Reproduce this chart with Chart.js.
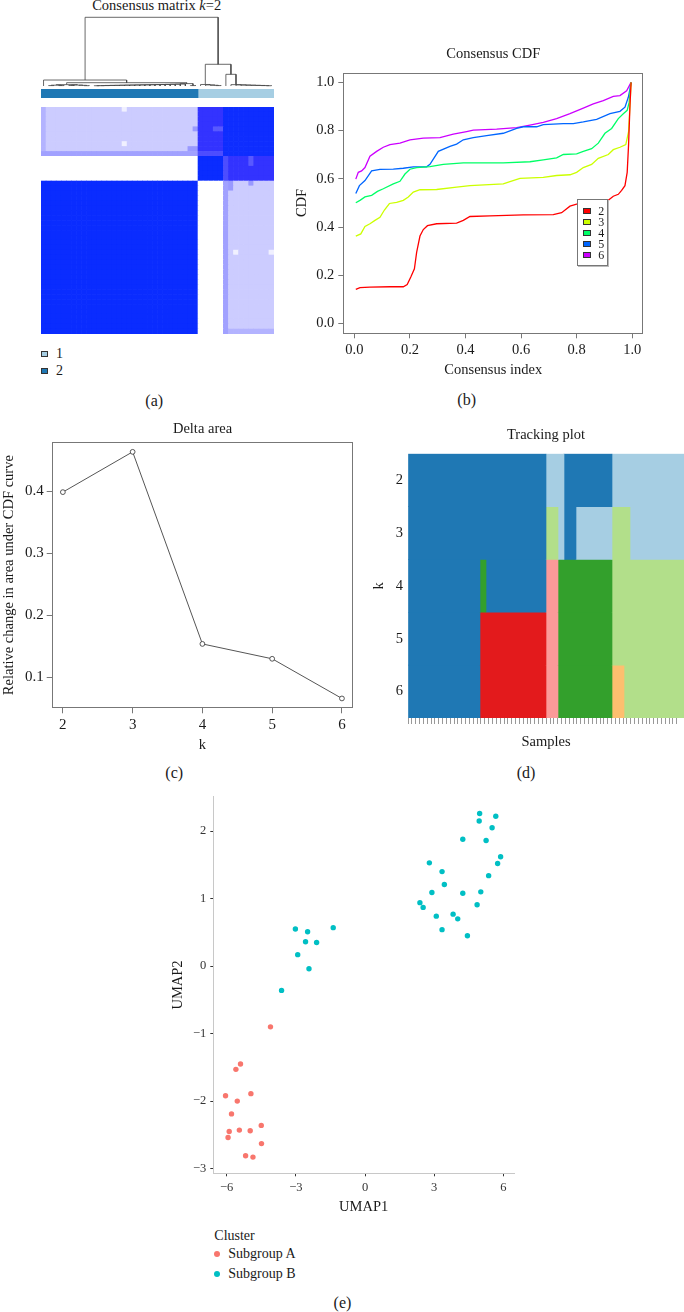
<!DOCTYPE html>
<html><head><meta charset="utf-8">
<script src="https://cdn.jsdelivr.net/npm/chart.js@4.4.0/dist/chart.umd.min.js"></script>
<style>
html,body{margin:0;padding:0;background:#fff;}
body{width:684px;height:1312px;position:relative;overflow:hidden;font-family:'Liberation Serif','DejaVu Serif',serif;color:#1a1a1a;}
canvas{position:absolute;}
.t{position:absolute;white-space:nowrap;line-height:1;}
.sq{position:absolute;box-sizing:border-box;border:1px solid #333;}
.dot{position:absolute;border-radius:50%;}
</style></head><body>
<script>
// ---------------- DATA ----------------
// (a) consensus matrix, k = 2 (samples ordered as in the heatmap)
const heatGroupSizes = [31, 5, 10];
const heatGroupCluster = [2, 1, 1];
const heatBlockValues = [[1.00, 0.00, 0.20], [0.00, 1.00, 0.80], [0.20, 0.80, 0.98]];
const heatSampleGroupExceptions = [[0, 2, 0.30], [36, 0, 0.37], [36, 1, 0.70]];
const heatCellExceptions = [[16, 45, 0.06], [16, 38, 0.06], [29, 37, 0.40], [30, 37, 0.40], [30, 41, 0.40], [34, 41, 0.65], [35, 41, 0.65]];
// dendrogram pieces (leaf indices and merge heights)
const dendroG1 = [0.020, [0.012, [0.006, 1, 2], [0.006, 3, 4]], [0.014, [0.008, 5, 6], [0.010, 7, [0.005, 8, 9]]]];
const dendroChainFLeaves = [10, 11, 12, 13, 14, 15, 16, 17, 18, 19, 20, 21, 22, 23, 24, 25, 26, 27, 28];
const dendroChainFHeights = [0.004, 0.005, 0.006, 0.008, 0.009, 0.010, 0.012, 0.013, 0.014, 0.016, 0.017, 0.018, 0.020, 0.021, 0.022, 0.024, 0.026, 0.028];
const dendroChainALeaves = [31, 32, 33, 34, 35];
const dendroChainAHeights = [0.022, 0.016, 0.011, 0.006];
const dendroChainBLeaves = [37, 38, 39, 40, 41, 42, 43, 44, 45];
const dendroChainBHeights = [0.020, 0.017, 0.014, 0.012, 0.010, 0.008, 0.006, 0.004];
const dendroHeights = {root: 1.0, left: 0.087, leftSub: 0.048, leftSub2: 0.035, pair: 0.006, right: 0.316, rightSub: 0.17};

// (b) consensus CDF
const cdfXTicks = [0.0, 0.2, 0.4, 0.6, 0.8, 1.0];
const cdfYTicks = [0.0, 0.2, 0.4, 0.6, 0.8, 1.0];
const cdfK2 = [[0.005,0.142],[0.02,0.149],[0.056,0.151],[0.128,0.153],[0.176,0.153],[0.19,0.162],[0.203,0.193],[0.216,0.227],[0.224,0.295],[0.236,0.363],[0.248,0.39],[0.263,0.406],[0.296,0.414],[0.368,0.417],[0.392,0.428],[0.416,0.444],[0.488,0.447],[0.608,0.451],[0.716,0.452],[0.746,0.46],[0.776,0.487],[0.8,0.495],[0.848,0.503],[0.908,0.506],[0.932,0.528],[0.95,0.536],[0.962,0.552],[0.974,0.572],[0.982,0.627],[0.987,0.742],[0.992,0.904],[0.996,1.0]];
const cdfK3 = [[0.005,0.363],[0.023,0.372],[0.038,0.403],[0.056,0.414],[0.074,0.428],[0.092,0.441],[0.108,0.471],[0.126,0.498],[0.152,0.503],[0.176,0.511],[0.194,0.525],[0.212,0.545],[0.236,0.555],[0.296,0.556],[0.368,0.566],[0.416,0.572],[0.536,0.579],[0.56,0.589],[0.596,0.602],[0.68,0.606],[0.728,0.614],[0.776,0.617],[0.8,0.627],[0.824,0.647],[0.854,0.66],[0.878,0.685],[0.914,0.701],[0.932,0.721],[0.956,0.731],[0.977,0.742],[0.987,0.796],[0.992,0.904],[0.996,1.0]];
const cdfK4 = [[0.005,0.501],[0.02,0.511],[0.038,0.525],[0.062,0.532],[0.083,0.548],[0.104,0.559],[0.14,0.579],[0.164,0.59],[0.182,0.62],[0.2,0.64],[0.224,0.647],[0.272,0.651],[0.32,0.66],[0.392,0.666],[0.536,0.666],[0.632,0.671],[0.68,0.679],[0.728,0.687],[0.752,0.701],[0.8,0.704],[0.824,0.714],[0.854,0.725],[0.878,0.748],[0.902,0.789],[0.926,0.809],[0.95,0.85],[0.968,0.87],[0.982,0.884],[0.989,0.917],[0.994,0.985],[0.996,1.0]];
const cdfK5 = [[0.005,0.539],[0.018,0.572],[0.038,0.593],[0.062,0.633],[0.092,0.639],[0.14,0.64],[0.176,0.644],[0.212,0.65],[0.26,0.65],[0.272,0.66],[0.302,0.714],[0.344,0.735],[0.368,0.744],[0.392,0.762],[0.428,0.771],[0.476,0.779],[0.536,0.789],[0.584,0.809],[0.608,0.816],[0.656,0.816],[0.68,0.825],[0.752,0.829],[0.788,0.829],[0.824,0.836],[0.872,0.847],[0.92,0.87],[0.956,0.88],[0.974,0.897],[0.986,0.938],[0.992,0.972],[0.996,1.0]];
const cdfK6 = [[0.005,0.599],[0.014,0.627],[0.026,0.633],[0.038,0.647],[0.056,0.694],[0.08,0.714],[0.104,0.731],[0.128,0.742],[0.164,0.748],[0.2,0.762],[0.248,0.769],[0.308,0.771],[0.356,0.785],[0.404,0.796],[0.428,0.802],[0.512,0.806],[0.584,0.812],[0.632,0.823],[0.68,0.834],[0.728,0.85],[0.776,0.87],[0.824,0.893],[0.86,0.911],[0.896,0.924],[0.932,0.942],[0.956,0.945],[0.98,0.965],[0.996,1.0]];
const cdfLabels = ['2', '3', '4', '5', '6'];
const cdfColors = ['#FF0000', '#CCFF00', '#00FF66', '#0066FF', '#CC00FF'];

// (c) delta area
const deltaK = [2, 3, 4, 5, 6];
const deltaArea = [0.399, 0.464, 0.154, 0.130, 0.066];
const deltaYTicks = [0.1, 0.2, 0.3, 0.4];

// (d) tracking plot: runs of [cluster, number of samples] per k
const trackK = ['2', '3', '4', '5', '6'];
const trackRunsK2 = [[2,23],[1,3],[2,8],[1,12]];
const trackRunsK3 = [[2,23],[3,2],[1,1],[2,2],[1,6],[3,3],[1,9]];
const trackRunsK4 = [[2,12],[4,1],[2,10],[5,2],[4,9],[3,12]];
const trackRunsK5 = [[2,12],[6,11],[5,2],[4,9],[3,12]];
const trackRunsK6 = [[2,12],[6,11],[5,2],[4,9],[7,2],[3,10]];
const trackColors = {1:'#A6CEE3', 2:'#1F78B4', 3:'#B2DF8A', 4:'#33A02C', 5:'#FB9A99', 6:'#E31A1C', 7:'#FDBF6F'};

// (e) UMAP
const umapXTicks = [-6, -3, 0, 3, 6];
const umapYTicks = [-3, -2, -1, 0, 1, 2];
const umapA = [[-4.10,-0.90],[-5.40,-1.45],[-5.60,-1.53],[-6.05,-1.92],[-4.95,-1.89],[-5.54,-2.00],[-5.79,-2.19],[-4.50,-2.36],[-5.89,-2.45],[-5.45,-2.43],[-4.98,-2.44],[-5.94,-2.54],[-4.49,-2.63],[-5.18,-2.81],[-4.86,-2.83]];
const umapB = [[-3.02,0.55],[-2.49,0.51],[-2.58,0.36],[-2.10,0.35],[-1.38,0.57],[-2.92,0.17],[-2.43,-0.04],[-3.62,-0.36],[4.97,2.26],[5.67,2.22],[4.95,2.15],[5.51,2.05],[4.24,1.88],[5.25,1.86],[5.88,1.62],[5.75,1.52],[2.79,1.53],[3.34,1.40],[5.36,1.34],[3.44,1.21],[2.90,1.09],[4.24,1.08],[5.02,1.10],[2.38,0.94],[2.52,0.87],[4.86,0.91],[3.09,0.74],[3.82,0.77],[4.02,0.70],[3.34,0.54],[4.44,0.45]];

// ---------------- SETUP ----------------
const FONT = "'Liberation Serif','DejaVu Serif',serif";
Chart.defaults.font.family = FONT;
Chart.defaults.color = '#1a1a1a';
Chart.defaults.animation = false;
Chart.defaults.responsive = false;
Chart.defaults.devicePixelRatio = 1;
Chart.defaults.plugins.legend.display = false;
Chart.defaults.plugins.tooltip.enabled = false;

function makeCanvas(id, left, top, w, h) {
  const c = document.createElement('canvas');
  c.id = id; c.width = w; c.height = h;
  c.style.left = left + 'px'; c.style.top = top + 'px';
  c.style.width = w + 'px'; c.style.height = h + 'px';
  document.body.appendChild(c);
  return c;
}
function txt(str, x, y, size, opts) {
  opts = opts || {};
  const d = document.createElement('div');
  d.className = 't';
  d.innerHTML = str;
  d.style.fontSize = size + 'px';
  d.style.left = x + 'px';
  d.style.top = (y - (opts.k || 0.51) * size) + 'px';
  if (opts.align !== 'left') d.style.transform = 'translateX(-50%)';
  if (opts.color) d.style.color = opts.color;
  document.body.appendChild(d);
}
function sq(x, y, w, h, color) {
  const d = document.createElement('div');
  d.className = 'sq';
  d.style.left = x + 'px'; d.style.top = y + 'px';
  d.style.width = w + 'px'; d.style.height = h + 'px';
  d.style.background = color;
  document.body.appendChild(d);
}
function dot(cx, cy, r, color) {
  const d = document.createElement('div');
  d.className = 'dot';
  d.style.left = (cx - r) + 'px'; d.style.top = (cy - r) + 'px';
  d.style.width = 2 * r + 'px'; d.style.height = 2 * r + 'px';
  d.style.background = color;
  document.body.appendChild(d);
}
const boxPlugin = {
  id: 'box',
  afterDraw(chart, args, opts) {
    const {ctx, chartArea: a} = chart;
    ctx.save();
    ctx.strokeStyle = opts.color || '#666';
    ctx.lineWidth = 1;
    ctx.strokeRect(Math.round(a.left) + 0.5, Math.round(a.top) + 0.5, Math.round(a.right - a.left) - 1, Math.round(a.bottom - a.top) - 1);
    ctx.restore();
  }
};
const fixTicks = arr => (s => { s.ticks = arr.map(v => ({value: v})); });

// ---------------- (a) CONSENSUS MATRIX ----------------
const groupOf = [];
heatGroupSizes.forEach((n, g) => { for (let i = 0; i < n; i++) groupOf.push(g); });
const N = groupOf.length;
const M = groupOf.map(gi => groupOf.map(gj => heatBlockValues[gi][gj]));
heatSampleGroupExceptions.forEach(([s, g, v]) => {
  groupOf.forEach((gj, j) => { if (gj === g && j !== s) { M[s][j] = v; M[j][s] = v; } });
});
heatCellExceptions.forEach(([i, j, v]) => { M[i][j] = v; M[j][i] = v; });
const heatStops = [[0, [255,255,255]], [0.2, [204,204,255]], [0.8, [51,51,255]], [1, [10,44,255]]];
function heatColor(v) {
  for (let i = 1; i < heatStops.length; i++) {
    const [v1, c1] = heatStops[i], [v0, c0] = heatStops[i-1];
    if (v <= v1) {
      const t = (v - v0) / (v1 - v0);
      return 'rgb(' + c0.map((c, k) => Math.round(c + (c1[k] - c) * t)).join(',') + ')';
    }
  }
  return 'rgb(10,44,255)';
}
const heatCols = groupOf.map((g, i) => 'S' + (i + 1));
new Chart(makeCanvas('heat', 41, 107, 233, 227), {
  type: 'bar',
  data: {
    labels: heatCols,
    datasets: M.map((row, r) => ({
      data: row.map(() => [r, r + 1]),
      backgroundColor: row.map(v => heatColor(v)),
      borderWidth: 0, grouped: false, barPercentage: 1, categoryPercentage: 1
    }))
  },
  options: {layout: {padding: 0}, scales: {x: {display: false}, y: {display: false, min: 0, max: N}}}
});

// dendrogram
function forwardChain(leaves, hs) { let node = leaves[0]; for (let i = 1; i < leaves.length; i++) node = [hs[i-1], node, leaves[i]]; return node; }
function reverseChain(leaves, hs) { let node = leaves[leaves.length-1]; for (let i = leaves.length - 2; i >= 0; i--) node = [hs[i], leaves[i], node]; return node; }
const dendroTree = [dendroHeights.root,
  [dendroHeights.left, 0, [dendroHeights.leftSub, dendroG1, [dendroHeights.leftSub2, forwardChain(dendroChainFLeaves, dendroChainFHeights), [dendroHeights.pair, 29, 30]]]],
  [dendroHeights.right, reverseChain(dendroChainALeaves, dendroChainAHeights), [dendroHeights.rightSub, 36, reverseChain(dendroChainBLeaves, dendroChainBHeights)]]
];
const dendroPts = [];
function walk(node) {
  if (typeof node === 'number') return {x: node + 0.5, h: 0};
  const l = walk(node[1]), r = walk(node[2]);
  dendroPts.push({x: l.x, y: l.h}, {x: l.x, y: node[0]}, {x: r.x, y: node[0]}, {x: r.x, y: r.h}, {x: NaN, y: NaN});
  return {x: (l.x + r.x) / 2, h: node[0]};
}
walk(dendroTree);
new Chart(makeCanvas('dendro', 41, 15, 233, 73), {
  type: 'scatter',
  data: {datasets: [{data: dendroPts, showLine: true, spanGaps: false, borderColor: '#444', borderWidth: 0.8, pointRadius: 0, clip: false}]},
  options: {layout: {padding: {top: 2.3, bottom: 2}}, scales: {x: {display: false, min: 0, max: N}, y: {display: false, min: 0, max: 1}}}
});

// cluster colour bar
const barRuns = [];
{ let s = 0; heatGroupSizes.forEach((n, g) => {
  const last = barRuns[barRuns.length - 1];
  if (last && last.cl === heatGroupCluster[g]) { last.e += n; } else { barRuns.push({cl: heatGroupCluster[g], s: s, e: s + n}); }
  s += n; }); }
new Chart(makeCanvas('cbar', 41, 89, 233, 9), {
  type: 'bar',
  data: {labels: ['k2'], datasets: barRuns.map(r => ({data: [[r.s, r.e]], backgroundColor: clusterColorsFor(r.cl), borderWidth: 0, grouped: false, barPercentage: 1, categoryPercentage: 1}))},
  options: {indexAxis: 'y', layout: {padding: 0}, scales: {x: {display: false, min: 0, max: N}, y: {display: false}}}
});
function clusterColorsFor(cl) { return trackColors[cl]; }

txt('Consensus matrix <i>k</i>=2', 156.7, 5, 14.5);
sq(40.5, 350.5, 7, 6.5, trackColors[1]); txt('1', 56, 353.7, 14, {align: 'left'});
sq(40.5, 367.5, 7, 6.5, trackColors[2]); txt('2', 56, 370.7, 14, {align: 'left'});
txt('(a)', 154.2, 402.7, 16, {k: 0.6});

// ---------------- (b) CONSENSUS CDF ----------------
const cdfSeries = [cdfK2, cdfK3, cdfK4, cdfK5, cdfK6];
new Chart(makeCanvas('cdf', 290, 60, 394, 321), {
  type: 'scatter',
  data: {datasets: cdfSeries.map((s, i) => ({label: cdfLabels[i], data: s.map(p => ({x: p[0], y: p[1]})), showLine: true, borderColor: cdfColors[i], borderWidth: 1.3, pointRadius: 0, tension: 0}))},
  plugins: [boxPlugin],
  options: {
    layout: {padding: {top: 6.7, right: 40.7, left: 0, bottom: 0}},
    plugins: {box: {color: '#777'}},
    scales: {
      x: {type: 'linear', min: -0.04, max: 1.04, afterBuildTicks: fixTicks(cdfXTicks), afterFit: s => { s.height = 47.7; },
          ticks: {callback: v => v.toFixed(1), font: {size: 14.5}, padding: 3, maxRotation: 0},
          grid: {drawOnChartArea: false, tickLength: 5, tickColor: '#777'}, border: {display: false},
          title: {display: true, text: 'Consensus index', font: {size: 14.5}, padding: {bottom: 2, top: 0}}},
      y: {min: -0.04, max: 1.04, afterBuildTicks: fixTicks(cdfYTicks), afterFit: s => { s.width = 53.3; },
          ticks: {callback: v => v.toFixed(1), font: {size: 14.5}, padding: 4},
          grid: {drawOnChartArea: false, tickLength: 5, tickColor: '#777'}, border: {display: false},
          title: {display: true, text: 'CDF', font: {size: 14.5}, padding: {top: 3, bottom: 0}}}
    }
  }
});
txt('Consensus CDF', 493.3, 53.3, 14.5);
(function () {
  const box = document.createElement('div');
  box.style.cssText = 'position:absolute;left:577px;top:199px;width:31px;height:67px;box-sizing:border-box;border:1px solid #777;box-shadow:1px 1px 0 #bbb;background:#fff;';
  document.body.appendChild(box);
  cdfLabels.forEach((l, i) => {
    const cy = 210.7 + 11 * i;
    sq(583.3, cy - 3.2, 8, 6.5, cdfColors[i]);
    txt(l, 598.3, cy, 12, {align: 'left'});
  });
})();
txt('(b)', 466.7, 401.7, 16, {k: 0.6});

// ---------------- (c) DELTA AREA ----------------
new Chart(makeCanvas('delta', 0, 430, 358, 326), {
  type: 'scatter',
  data: {datasets: [{data: deltaK.map((k, i) => ({x: k, y: deltaArea[i]})), showLine: true, borderColor: '#555', borderWidth: 1,
    pointRadius: 2.4, pointBorderWidth: 0.9, pointBorderColor: '#444', pointBackgroundColor: '#fff', clip: false}]},
  plugins: [boxPlugin],
  options: {
    layout: {padding: {top: 10, right: 4.7, left: 0, bottom: 0}},
    plugins: {box: {color: '#777'}},
    scales: {
      x: {type: 'linear', min: 1.84, max: 6.16, afterBuildTicks: fixTicks(deltaK), afterFit: s => { s.height = 47.7; },
          ticks: {font: {size: 15}, padding: 3, maxRotation: 0},
          grid: {drawOnChartArea: false, tickLength: 5, tickColor: '#777'}, border: {display: false},
          title: {display: true, text: 'k', font: {size: 14.5}, padding: {bottom: 2, top: 0}}},
      y: {min: 0.0501, max: 0.4799, afterBuildTicks: fixTicks(deltaYTicks), afterFit: s => { s.width = 51.7; },
          ticks: {callback: v => v.toFixed(1), font: {size: 15}, padding: 3},
          grid: {drawOnChartArea: false, tickLength: 5, tickColor: '#777'}, border: {display: false},
          title: {display: true, text: 'Relative change in area under CDF curve', font: {size: 14.5}, padding: {top: 0.5, bottom: 0}}}
    }
  }
});
txt('Delta area', 202.5, 428, 14.5);
txt('(c)', 174.2, 775, 16, {k: 0.6});

// ---------------- (d) TRACKING PLOT ----------------
const trackRuns = [trackRunsK2, trackRunsK3, trackRunsK4, trackRunsK5, trackRunsK6];
const trackN = trackRunsK2.reduce((a, r) => a + r[1], 0);
const trackDatasets = [];
trackRuns.forEach((runs, ki) => {
  let s = 0;
  runs.forEach(([cl, n]) => {
    trackDatasets.push({data: trackK.map((_, j) => j === ki ? [s, s + n] : null), backgroundColor: trackColors[cl],
      borderWidth: 0, grouped: false, barPercentage: 1, categoryPercentage: 1});
    s += n;
  });
});
new Chart(makeCanvas('track', 370, 440, 314, 313), {
  type: 'bar',
  data: {labels: trackK, datasets: trackDatasets},
  options: {
    indexAxis: 'y',
    layout: {padding: {top: 9, right: 0, left: 0, bottom: 0}},
    scales: {
      x: {type: 'linear', min: 0, max: trackN, afterFit: s => { s.height = 35; },
          ticks: {display: false, stepSize: 0.64},
          grid: {drawOnChartArea: false, tickLength: 6, tickColor: '#999'}, border: {display: false},
          title: {display: true, text: 'Samples', font: {size: 14.5}, padding: {bottom: 2, top: 0}}},
      y: {afterFit: s => { s.width = 38; },
          ticks: {font: {size: 14.5}, padding: 5},
          grid: {display: false, drawTicks: false}, border: {display: false},
          title: {display: true, text: 'k', font: {size: 14.5}, padding: {top: 0.6, bottom: 0}}}
    }
  }
});
txt('Tracking plot', 546, 434.2, 14.5);
txt('(d)', 526, 775, 16, {k: 0.6});

// ---------------- (e) UMAP ----------------
const minus = v => (v < 0 ? '\u2212' : '') + Math.abs(v);
new Chart(makeCanvas('umap', 165, 785, 365, 433), {
  type: 'scatter',
  data: {datasets: [
    {label: 'Subgroup A', data: umapA.map(p => ({x: p[0], y: p[1]})), pointRadius: 2.7, pointBorderWidth: 0, backgroundColor: '#F8766D'},
    {label: 'Subgroup B', data: umapB.map(p => ({x: p[0], y: p[1]})), pointRadius: 2.7, pointBorderWidth: 0, backgroundColor: '#00BFC4'}
  ]},
  options: {
    layout: {padding: {top: 11.7, right: 16, left: 0, bottom: 0}},
    scales: {
      x: {min: -6.58, max: 6.46, afterBuildTicks: fixTicks(umapXTicks), afterFit: s => { s.height = 44.7; },
          ticks: {callback: minus, font: {size: 12.5}, color: '#333', padding: 4, maxRotation: 0},
          grid: {drawOnChartArea: false, tickLength: 3, tickColor: '#333'}, border: {color: '#c8c8c8', width: 1},
          title: {display: true, text: 'UMAP1', font: {size: 14.5}, padding: {bottom: 2, top: 0}}},
      y: {min: -3.07, max: 2.51, afterBuildTicks: fixTicks(umapYTicks), afterFit: s => { s.width = 48.3; },
          ticks: {callback: minus, font: {size: 12.5}, color: '#333', padding: 4},
          grid: {drawOnChartArea: false, tickLength: 3, tickColor: '#333'}, border: {color: '#c8c8c8', width: 1},
          title: {display: true, text: 'UMAP2', font: {size: 14.5}, padding: {top: 4.6, bottom: 0}}}
    }
  }
});
txt('Cluster', 214.3, 1235.7, 14, {align: 'left'});
dot(216.7, 1254, 3, '#F8766D'); txt('Subgroup A', 228.3, 1254, 14, {align: 'left'});
dot(216.7, 1274, 3, '#00BFC4'); txt('Subgroup B', 228.3, 1274, 14, {align: 'left'});
txt('(e)', 342.5, 1304.3, 16, {k: 0.6});
</script>
</body></html>
